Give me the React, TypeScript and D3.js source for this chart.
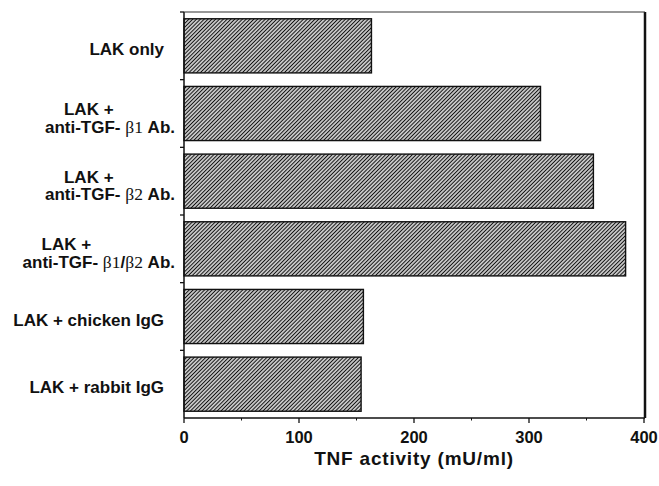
import React, { useRef, useEffect } from 'react';
import * as d3 from 'd3';

const categories = [
  'LAK only',
  'LAK + anti-TGF-β1 Ab.',
  'LAK + anti-TGF-β2 Ab.',
  'LAK + anti-TGF-β1/β2 Ab.',
  'LAK + chicken IgG',
  'LAK + rabbit IgG',
];
const labelLines = [
  ['LAK only'],
  ['LAK +', 'anti-TGF- β1 Ab.'],
  ['LAK +', 'anti-TGF- β2 Ab.'],
  ['LAK +', 'anti-TGF- β1/β2 Ab.'],
  ['LAK + chicken IgG'],
  ['LAK + rabbit IgG'],
];
const tnfActivity = [163, 310, 356, 384, 156, 154];
const xTicks = [0, 100, 200, 300, 400];
const xMinorTicks = [50, 150, 250, 350];

const FONT = '"Liberation Sans", Arial, Helvetica, sans-serif';
const GREEK = '"Liberation Serif", "DejaVu Serif", serif';

// writes a line into a text node, greek parts in a lighter serif face
const fillLine = (textSel, str) => {
  str.split(/(β\d)/).filter(s => s.length).forEach(part => {
    const t = textSel.append('tspan').text(part);
    if (part.startsWith('β')) {
      t.attr('font-family', GREEK).attr('font-weight', 'normal').attr('font-size', 17.5);
    }
  });
};

const App = () => {
  const svgRef = useRef<SVGSVGElement>(null);

  useEffect(() => {
    document.body.style.margin = '0';
    const svg = d3.select(svgRef.current);
    svg.selectAll('*').remove();

    const left = 184, right = 644, top = 12, bottom = 418;

    const x = d3.scaleLinear().domain([0, 400]).range([left, right]);
    const yCell = d3.scaleBand().domain(categories).range([top, bottom]);
    const y = d3.scaleBand().domain(categories).range([top, bottom])
      .paddingInner(0.2).paddingOuter(0.1);

    const defs = svg.append('defs');
    const pat = defs.append('pattern')
      .attr('id', 'hatch')
      .attr('patternUnits', 'userSpaceOnUse')
      .attr('width', 2.7)
      .attr('height', 2.7)
      .attr('patternTransform', 'rotate(45)');
    pat.append('rect').attr('width', 2.7).attr('height', 2.7).attr('fill', '#fff');
    pat.append('line')
      .attr('x1', 1.35).attr('x2', 1.35).attr('y1', 0).attr('y2', 2.7)
      .attr('stroke', '#111').attr('stroke-width', 1.35);

    // bars
    svg.selectAll('.bar')
      .data(tnfActivity)
      .join('rect')
      .attr('class', 'bar')
      .attr('x', x(0))
      .attr('y', (d, i) => y(categories[i]))
      .attr('width', d => x(d) - x(0))
      .attr('height', y.bandwidth())
      .attr('fill', 'url(#hatch)')
      .attr('stroke', '#111')
      .attr('stroke-width', 1.4);

    // frame
    const frame = svg.append('g').attr('stroke', '#111').attr('fill', 'none');
    frame.append('line').attr('x1', left).attr('x2', left).attr('y1', top).attr('y2', bottom).attr('stroke-width', 1.5);
    frame.append('line').attr('x1', left).attr('x2', right + 1).attr('y1', bottom).attr('y2', bottom).attr('stroke-width', 1.5);
    frame.append('line').attr('x1', right + 1).attr('x2', right + 1).attr('y1', top).attr('y2', bottom).attr('stroke-width', 2.5);
    frame.append('line').attr('x1', left).attr('x2', right + 1).attr('y1', top).attr('y2', top)
      .attr('stroke-width', 1.2).attr('stroke', '#333');

    // left ticks between categories
    frame.selectAll('.ytick')
      .data(categories)
      .join('line')
      .attr('class', 'ytick')
      .attr('x1', left - 4).attr('x2', left)
      .attr('y1', d => yCell(d)).attr('y2', d => yCell(d))
      .attr('stroke-width', 1.3);

    // bottom ticks
    frame.selectAll('.xtick')
      .data(xTicks)
      .join('line')
      .attr('class', 'xtick')
      .attr('x1', d => x(d)).attr('x2', d => x(d))
      .attr('y1', bottom).attr('y2', bottom + 5)
      .attr('stroke-width', 1.3);
    frame.selectAll('.xminor')
      .data(xMinorTicks)
      .join('line')
      .attr('class', 'xminor')
      .attr('x1', d => x(d)).attr('x2', d => x(d))
      .attr('y1', bottom).attr('y2', bottom + 2.5)
      .attr('stroke-width', 1);

    svg.selectAll('.xlabel')
      .data(xTicks)
      .join('text')
      .attr('class', 'xlabel')
      .attr('x', d => x(d))
      .attr('y', 443)
      .attr('text-anchor', 'middle')
      .attr('font-family', FONT)
      .attr('font-weight', 'bold')
      .attr('font-size', 16.5)
      .attr('fill', '#111')
      .text(d => d);

    svg.append('text')
      .attr('x', 414)
      .attr('y', 465)
      .attr('text-anchor', 'middle')
      .attr('font-family', FONT)
      .attr('font-weight', 'bold')
      .attr('font-size', 19)
      .attr('letter-spacing', 0.8)
      .attr('fill', '#111')
      .text('TNF activity (mU/ml)');

    // category labels
    const labels = svg.append('g')
      .attr('font-family', FONT)
      .attr('font-weight', 'bold')
      .attr('font-size', 17)
      .attr('fill', '#111');

    labelLines.forEach((lines, i) => {
      const cy = yCell(categories[i]) + yCell.bandwidth() / 2;
      if (lines.length === 1) {
        const t = labels.append('text').attr('x', 164).attr('y', cy + 9).attr('text-anchor', 'end');
        fillLine(t, lines[0]);
      } else {
        const t2 = labels.append('text').attr('x', 175).attr('y', cy + 19).attr('text-anchor', 'end');
        fillLine(t2, lines[1]);
        const w = (t2.node() as SVGTextElement).getComputedTextLength();
        const t1 = labels.append('text').attr('x', 175 - w + 19).attr('y', cy + 1.5);
        fillLine(t1, lines[0]);
      }
    });
  }, []);

  return (
    <svg ref={svgRef} width={659} height={486} style={{ display: 'block', background: '#fff' }} />
  );
};

export default App;
